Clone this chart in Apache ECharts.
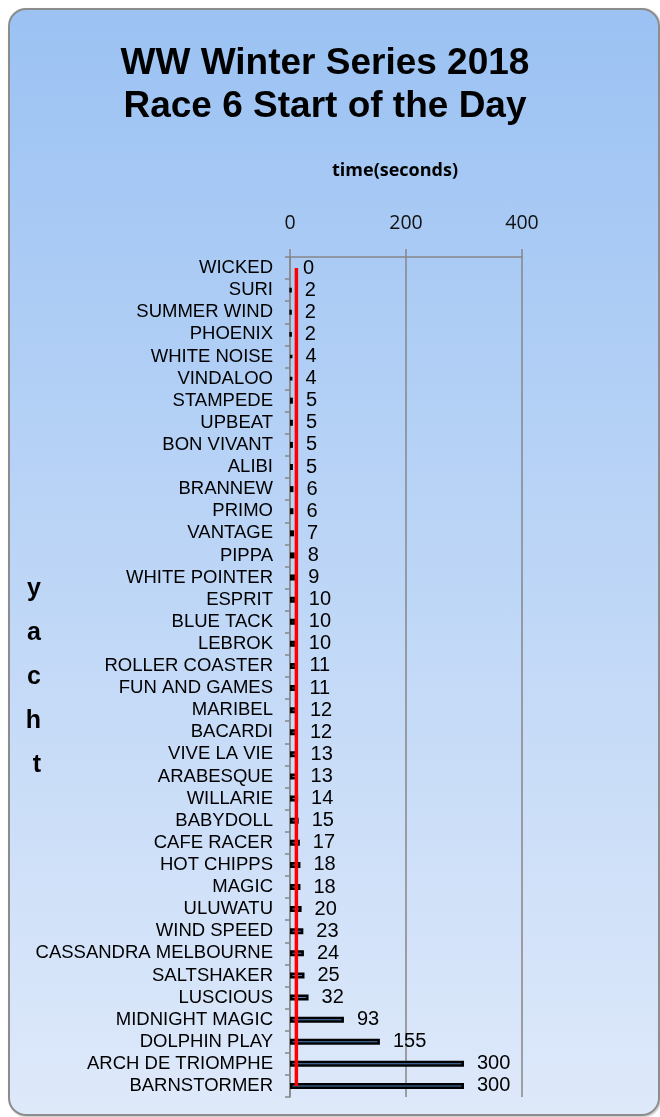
<!DOCTYPE html>
<html>
<head>
<meta charset="utf-8">
<script src="https://cdn.jsdelivr.net/npm/echarts@6/dist/echarts.min.js"></script>
<style>
  body { margin: 0; background: #fff; }
  #bg {
    position: absolute; left: 8px; top: 8px; width: 648px; height: 1104px;
    border: 2px solid #8c8c8c; border-radius: 18px;
    background: linear-gradient(#9bc2f3, #dee9fa);
    box-shadow: 1px 1px 2px rgba(0,0,0,0.25);
  }
  #chart { position: absolute; left: 0; top: 0; width: 660px; height: 1117px; }
</style>
</head>
<body>
<div id="bg"></div>
<div id="chart"></div>
<script>
const yachts = ['WICKED', 'SURI', 'SUMMER WIND', 'PHOENIX', 'WHITE NOISE', 'VINDALOO', 'STAMPEDE', 'UPBEAT',
  'BON VIVANT', 'ALIBI', 'BRANNEW', 'PRIMO', 'VANTAGE', 'PIPPA', 'WHITE POINTER', 'ESPRIT', 'BLUE TACK',
  'LEBROK', 'ROLLER COASTER', 'FUN AND GAMES', 'MARIBEL', 'BACARDI', 'VIVE LA VIE', 'ARABESQUE', 'WILLARIE',
  'BABYDOLL', 'CAFE RACER', 'HOT CHIPPS', 'MAGIC', 'ULUWATU', 'WIND SPEED', 'CASSANDRA MELBOURNE',
  'SALTSHAKER', 'LUSCIOUS', 'MIDNIGHT MAGIC', 'DOLPHIN PLAY', 'ARCH DE TRIOMPHE', 'BARNSTORMER']
const times = [0, 2, 2, 2, 4, 4, 5, 5, 5, 5, 6, 6, 7, 8, 9, 10, 10, 10, 11, 11, 12, 12, 13, 13, 14,
  15, 17, 18, 18, 20, 23, 24, 25, 32, 93, 155, 300, 300]
// red reference line (median time)
const refLine = 11
const xTicks = [0, 200, 400]

const chart = echarts.init(document.getElementById('chart'))

chart.setOption({
  animation: false,
  title: [
    {
      text: 'WW Winter Series 2018\nRace 6 Start of the Day',
      left: 320, top: 37, textAlign: 'center',
      textStyle: { fontFamily: 'Arial', fontSize: 37, fontWeight: 'bold', lineHeight: 43, color: '#000' }
    },
    {
      text: 'time(seconds)',
      left: 390, top: 157, textAlign: 'center',
      textStyle: { fontFamily: 'Open Sans', fontSize: 18, fontWeight: 'bold', color: '#000' }
    }
  ],
  grid: { left: 290, right: 138, top: 257, bottom: 20 },
  xAxis: {
    type: 'value',
    position: 'top',
    min: xTicks[0],
    max: xTicks[xTicks.length - 1],
    interval: xTicks[1] - xTicks[0],
    axisLine: { show: true, lineStyle: { color: '#868686', width: 1.5 } },
    axisTick: { show: true, length: 8, lineStyle: { color: '#868686', width: 1.5 } },
    splitLine: { show: true, lineStyle: { color: '#868686', width: 1.5 } },
    axisLabel: { margin: 24, fontFamily: 'Open Sans', fontSize: 19.5, color: '#111' }
  },
  yAxis: {
    type: 'category',
    inverse: true,
    data: yachts,
    name: 'y\na\nc\nh\nt',
    nameLocation: 'middle',
    nameRotate: 0,
    nameGap: 249,
    nameMoveOverlap: false,
    nameTextStyle: { fontFamily: 'Arial', fontSize: 25, fontWeight: 'bold', lineHeight: 44, color: '#000', padding: [38, 0, 0, 0] },
    axisLine: { show: true, lineStyle: { color: '#868686', width: 1.5 } },
    axisTick: { show: true, length: 5, lineStyle: { color: '#868686', width: 1.5 } },
    axisLabel: { interval: 0, margin: 17, fontFamily: 'Arial', fontSize: 18.5, color: '#000' }
  },
  series: [
    {
      type: 'bar',
      data: times.map(v => v === 0 ? { value: v, itemStyle: { borderWidth: 0 } } : v),
      barWidth: 6,
      itemStyle: { color: '#4f81bd', borderColor: '#000', borderWidth: 2.5 },
      label: { show: true, position: 'right', distance: 13, fontFamily: 'Arial', fontSize: 20, color: '#000' }
    },
    {
      type: 'line',
      data: yachts.map(() => refLine),
      symbol: 'none',
      lineStyle: { color: '#ff0000', width: 3.5 },
      z: 5
    }
  ]
})
</script>
</body>
</html>
